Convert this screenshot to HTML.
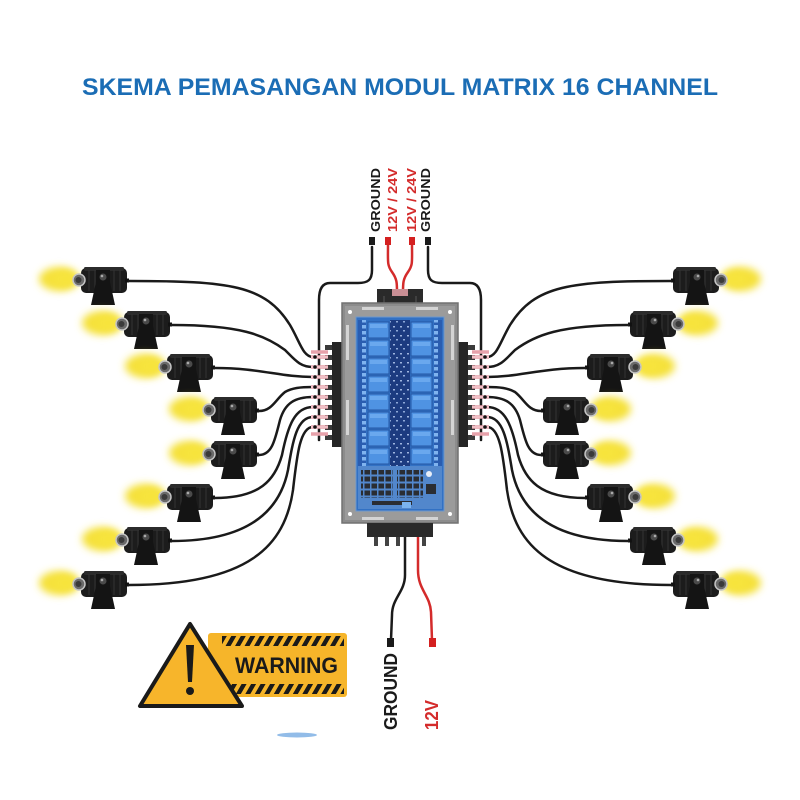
<!DOCTYPE html>
<html><head><meta charset="utf-8"><style>html,body{margin:0;padding:0;background:#fff}svg{display:block}</style></head>
<body>
<svg width="800" height="800" viewBox="0 0 800 800" xmlns="http://www.w3.org/2000/svg">
<defs>
  <filter id="glow" x="-80%" y="-80%" width="260%" height="260%"><feGaussianBlur stdDeviation="4"/></filter>
  <pattern id="term" x="0" y="0" width="8" height="6" patternUnits="userSpaceOnUse">
    <rect x="2" y="1" width="4" height="3.5" fill="#7fb3ef"/>
  </pattern>
  <pattern id="comp" x="0" y="0" width="7" height="7" patternUnits="userSpaceOnUse">
    <rect x="0.5" y="0.5" width="5.5" height="5" fill="#2a2d33"/>
  </pattern>
  <pattern id="speck" x="0" y="0" width="7" height="9" patternUnits="userSpaceOnUse">
    <rect x="1" y="2" width="2" height="1.5" fill="#9fb6e0"/>
    <rect x="4" y="6" width="2" height="1.5" fill="#8ea8d8"/>
  </pattern>
  <pattern id="haz" x="0" y="0" width="9.5" height="10" patternUnits="userSpaceOnUse" patternTransform="skewX(-30)">
    <rect x="0" y="0" width="5" height="10" fill="#1a1a1a"/>
  </pattern>
  <g id="lamp">
    <ellipse cx="-22" cy="11" rx="20" ry="12" fill="#f5e13a" filter="url(#glow)"/>
    <ellipse cx="-16" cy="11" rx="12" ry="8" fill="#f7e43e" filter="url(#glow)"/>
    <rect x="0" y="0" width="46" height="25" rx="5" fill="#1c1c1c"/>
    <rect x="3" y="-1" width="40" height="4" rx="1.5" fill="#2b2b2b"/>
    <g stroke="#333" stroke-width="1">
      <line x1="8" y1="2" x2="8" y2="23"/><line x1="14" y1="2" x2="14" y2="23"/>
      <line x1="33" y1="2" x2="33" y2="23"/><line x1="39" y1="2" x2="39" y2="23"/>
    </g>
    <rect x="15" y="2" width="14" height="20" fill="#141414"/>
    <path d="M15,14 L29,14 L34,37 L10,37 Z" fill="#141414"/>
    <circle cx="22" cy="9" r="3.5" fill="#4a4a4a"/>
    <circle cx="21" cy="8" r="1.3" fill="#aaa"/>
    <circle cx="-2" cy="12" r="6" fill="#6a6a6a" stroke="#c4c4c4" stroke-width="1.5"/>
    <circle cx="-2.5" cy="12" r="3" fill="#3a3a3a"/>
    <rect x="44" y="10.5" width="4" height="4" fill="#111"/>
  </g>
  <g id="half">
    <use href="#lamp" transform="translate(81,268)"/>
    <use href="#lamp" transform="translate(124,312)"/>
    <use href="#lamp" transform="translate(167,355)"/>
    <use href="#lamp" transform="translate(211,398)"/>
    <use href="#lamp" transform="translate(211,442)"/>
    <use href="#lamp" transform="translate(167,485)"/>
    <use href="#lamp" transform="translate(124,528)"/>
    <use href="#lamp" transform="translate(81,572)"/>
    <g fill="none" stroke="#1a1a1a" stroke-width="2.5" stroke-linecap="round">
      <path d="M129,281 C230,281 265,285 290,325 C300,342 303,357 313,357"/>
      <path d="M172,325 C240,325 265,335 285,350 C295,360 300,367 313,367"/>
      <path d="M215,368 C260,368 280,377 313,377"/>
      <path d="M259,411 C272,411 275,400 285,392 C292,388 300,387 313,387"/>
      <path d="M259,455 C272,455 275,440 280,420 C285,403 295,397 313,397"/>
      <path d="M215,498 C260,498 275,480 282,455 C288,425 295,407 313,407"/>
      <path d="M172,541 C250,541 280,510 288,470 C293,440 297,417 313,417"/>
      <path d="M129,585 C250,585 285,545 293,490 C297,455 300,427 313,427"/>
      <path d="M372,247 L372,270 C372,280 368,283 358,283 L330,283 C322,283 319,290 319,300 L319,440"/>
    </g>
    <path d="M388,245 C388,262 387,265 392,272 C397,279 397,283 397,292" fill="none" stroke="#d42b2b" stroke-width="2.5"/>
    <rect x="369" y="237" width="6" height="8" fill="#1a1a1a"/>
    <rect x="385" y="237" width="6" height="8" fill="#d42020"/>
    <rect x="332" y="342" width="11" height="105" fill="#262626"/>
    <g fill="#3a3a3a">
      <rect x="325" y="345" width="7" height="5"/><rect x="325" y="355" width="7" height="5"/>
      <rect x="325" y="365" width="7" height="5"/><rect x="325" y="375" width="7" height="5"/>
      <rect x="325" y="385" width="7" height="5"/><rect x="325" y="395" width="7" height="5"/>
      <rect x="325" y="405" width="7" height="5"/><rect x="325" y="415" width="7" height="5"/>
      <rect x="325" y="425" width="7" height="5"/><rect x="325" y="435" width="7" height="5"/>
    </g>
    <g stroke="#e7a2ab" stroke-width="3.5">
      <line x1="311" y1="352" x2="328" y2="352"/>
      <line x1="311" y1="357" x2="328" y2="357"/><line x1="311" y1="367" x2="328" y2="367"/>
      <line x1="311" y1="377" x2="328" y2="377"/><line x1="311" y1="387" x2="328" y2="387"/>
      <line x1="311" y1="397" x2="328" y2="397"/><line x1="311" y1="407" x2="328" y2="407"/>
      <line x1="311" y1="417" x2="328" y2="417"/><line x1="311" y1="427" x2="328" y2="427"/>
      <line x1="311" y1="434" x2="328" y2="434"/>
    </g>
    <g stroke="#f8dfe2" stroke-width="1">
      <line x1="311" y1="357" x2="328" y2="357"/><line x1="311" y1="367" x2="328" y2="367"/>
      <line x1="311" y1="377" x2="328" y2="377"/><line x1="311" y1="387" x2="328" y2="387"/>
      <line x1="311" y1="397" x2="328" y2="397"/><line x1="311" y1="407" x2="328" y2="407"/>
      <line x1="311" y1="417" x2="328" y2="417"/><line x1="311" y1="427" x2="328" y2="427"/>
    </g>
    <g fill="#111">
      <circle cx="315" cy="357" r="1.8"/><circle cx="315" cy="367" r="1.8"/><circle cx="315" cy="377" r="1.8"/>
      <circle cx="315" cy="387" r="1.8"/><circle cx="315" cy="397" r="1.8"/><circle cx="315" cy="407" r="1.8"/>
      <circle cx="315" cy="417" r="1.8"/><circle cx="315" cy="427" r="1.8"/>
    </g>
  </g>
</defs>

<rect width="800" height="800" fill="#fff"/>

<text x="82" y="95" font-family="Liberation Sans, sans-serif" font-size="24" font-weight="bold" fill="#1b6db5" textLength="636" lengthAdjust="spacingAndGlyphs">SKEMA PEMASANGAN MODUL MATRIX 16 CHANNEL</text>

<use href="#half"/>
<use href="#half" transform="translate(800,0) scale(-1,1)"/>

<g font-family="Liberation Sans, sans-serif" font-weight="bold" font-size="13">
  <text transform="translate(380,232) rotate(-90)" fill="#1a1a1a" textLength="64" lengthAdjust="spacingAndGlyphs">GROUND</text>
  <text transform="translate(397,232) rotate(-90)" fill="#d42b2b" textLength="64" lengthAdjust="spacingAndGlyphs">12V / 24V</text>
  <text transform="translate(416,232) rotate(-90)" fill="#d42b2b" textLength="64" lengthAdjust="spacingAndGlyphs">12V / 24V</text>
  <text transform="translate(430,232) rotate(-90)" fill="#1a1a1a" textLength="64" lengthAdjust="spacingAndGlyphs">GROUND</text>
</g>

<rect x="377" y="289" width="46" height="16" fill="#2a2a2a"/>
<rect x="392" y="289" width="16" height="7" fill="#c98f95"/>
<g stroke="#555" stroke-width="1"><line x1="384" y1="296" x2="384" y2="305"/><line x1="416" y1="296" x2="416" y2="305"/></g>

<rect x="342" y="303" width="116" height="220" fill="#8c8c8c" stroke="#727272" stroke-width="1.5"/>
<rect x="345" y="306" width="110" height="214" fill="#9b9b9b"/>
<g fill="#d4d4d4">
  <rect x="346" y="325" width="3" height="35"/><rect x="346" y="400" width="3" height="35"/>
  <rect x="451" y="325" width="3" height="35"/><rect x="451" y="400" width="3" height="35"/>
  <rect x="362" y="307" width="22" height="3"/><rect x="416" y="307" width="22" height="3"/>
  <rect x="362" y="517" width="22" height="3"/><rect x="416" y="517" width="22" height="3"/>
</g>
<g fill="#fff"><circle cx="350" cy="312" r="2"/><circle cx="450" cy="312" r="2"/><circle cx="350" cy="514" r="2"/><circle cx="450" cy="514" r="2"/></g>

<rect x="356" y="317" width="88" height="194" fill="#3271c4" stroke="#6e98cc" stroke-width="1"/>
<rect x="358" y="320" width="8" height="146" fill="#2a5db0"/>
<rect x="358" y="320" width="8" height="146" fill="url(#term)"/>
<rect x="434" y="320" width="8" height="146" fill="#2a5db0"/>
<rect x="434" y="320" width="8" height="146" fill="url(#term)"/>
<rect x="390" y="320" width="20" height="146" fill="#1c3b80"/>
<rect x="390" y="320" width="20" height="146" fill="url(#speck)"/>
<g fill="#4f93e3" stroke="#2457a5" stroke-width="1">
  <rect x="368" y="322" width="21" height="16"/><rect x="368" y="340" width="21" height="16"/>
  <rect x="368" y="358" width="21" height="16"/><rect x="368" y="376" width="21" height="16"/>
  <rect x="368" y="394" width="21" height="16"/><rect x="368" y="412" width="21" height="16"/>
  <rect x="368" y="430" width="21" height="16"/><rect x="368" y="448" width="21" height="16"/>
  <rect x="411" y="322" width="21" height="16"/><rect x="411" y="340" width="21" height="16"/>
  <rect x="411" y="358" width="21" height="16"/><rect x="411" y="376" width="21" height="16"/>
  <rect x="411" y="394" width="21" height="16"/><rect x="411" y="412" width="21" height="16"/>
  <rect x="411" y="430" width="21" height="16"/><rect x="411" y="448" width="21" height="16"/>
</g>
<g fill="#6aa8ee">
  <rect x="370" y="324" width="17" height="4"/><rect x="370" y="342" width="17" height="4"/>
  <rect x="370" y="360" width="17" height="4"/><rect x="370" y="378" width="17" height="4"/>
  <rect x="370" y="396" width="17" height="4"/><rect x="370" y="414" width="17" height="4"/>
  <rect x="370" y="432" width="17" height="4"/><rect x="370" y="450" width="17" height="4"/>
  <rect x="413" y="324" width="17" height="4"/><rect x="413" y="342" width="17" height="4"/>
  <rect x="413" y="360" width="17" height="4"/><rect x="413" y="378" width="17" height="4"/>
  <rect x="413" y="396" width="17" height="4"/><rect x="413" y="414" width="17" height="4"/>
  <rect x="413" y="432" width="17" height="4"/><rect x="413" y="450" width="17" height="4"/>
</g>
<rect x="358" y="466" width="84" height="43" fill="#5287cc"/>
<rect x="361" y="470" width="32" height="28" fill="url(#comp)"/>
<rect x="397" y="470" width="26" height="28" fill="url(#comp)"/>
<rect x="372" y="501" width="40" height="4" fill="#2a2d33"/>
<circle cx="429" cy="474" r="3" fill="#e8eef8"/>
<rect x="426" y="484" width="10" height="10" fill="#2a2d33"/>
<rect x="402" y="502" width="9" height="6" fill="#7ab3f0"/>

<rect x="367" y="523" width="66" height="14" fill="#2a2a2a"/>
<g fill="#444"><rect x="374" y="537" width="4" height="9"/><rect x="385" y="537" width="4" height="9"/><rect x="396" y="537" width="4" height="9"/><rect x="422" y="537" width="4" height="9"/></g>
<path d="M405,537 L405,575 C405,592 392,598 392,615 L391,640" fill="none" stroke="#1a1a1a" stroke-width="2.5"/>
<path d="M418,537 L418,570 C418,590 430,595 431,612 L432,640" fill="none" stroke="#d42b2b" stroke-width="2.5"/>
<rect x="387" y="638" width="7" height="9" fill="#1a1a1a"/>
<rect x="429" y="638" width="7" height="9" fill="#d42020"/>
<g font-family="Liberation Sans, sans-serif" font-weight="bold" font-size="18">
  <text transform="translate(397,730) rotate(-90)" fill="#1a1a1a" textLength="77" lengthAdjust="spacingAndGlyphs">GROUND</text>
  <text transform="translate(438,730) rotate(-90)" fill="#d42b2b" textLength="30" lengthAdjust="spacingAndGlyphs">12V</text>
</g>

<rect x="208" y="633" width="139" height="64" rx="3" fill="#f6b52a"/>
<rect x="222" y="636" width="122" height="10" fill="url(#haz)"/>
<rect x="222" y="684" width="122" height="10" fill="url(#haz)"/>
<text x="235" y="673" font-family="Liberation Sans, sans-serif" font-weight="bold" font-size="22" fill="#1a1a1a" textLength="103" lengthAdjust="spacingAndGlyphs">WARNING</text>
<path d="M190,624 L140,706 L242,706 Z" fill="#f7b52b" stroke="#1a1a1a" stroke-width="4" stroke-linejoin="round"/>
<path d="M186,645 L194,645 L192,682 L188,682 Z" fill="#1a1a1a"/>
<circle cx="190" cy="691" r="4" fill="#1a1a1a"/>

<ellipse cx="297" cy="735" rx="20" ry="2.5" fill="#4a8fd8" opacity="0.6"/>
</svg>
</body></html>
